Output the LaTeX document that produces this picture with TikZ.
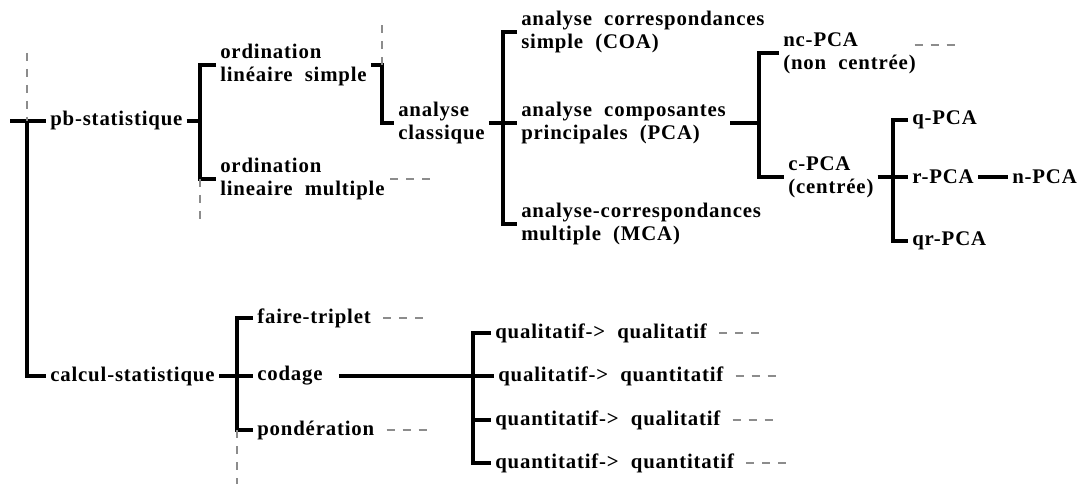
\documentclass[tikz,border=0pt]{standalone}
\usepackage{fontspec}
\setmainfont{Liberation Serif}[LetterSpace=4,WordSpace=2]
\usetikzlibrary{calc, positioning}

\begin{document}
\begin{tikzpicture}[x=0.75pt, y=-0.75pt, font=\bfseries\fontsize{15.6}{17.5}\selectfont, inner ysep=0pt, inner xsep=3pt, align=left,
  branch/.style={line width=2.5pt},
  stub/.style={black!45, line width=1.8pt, dash pattern=on 6pt off 6pt}]
\useasboundingbox (0,0) rectangle (1084,484);

\node[anchor=west] (pb) at (46,121) {pb-statistique};
\node[anchor=west] (ols) at (216,65) {ordination\\linéaire simple};
\node[anchor=west] (olm) at (216,179) {ordination\\lineaire multiple};
\node[anchor=west] (ac) at (394,123) {analyse\\classique};
\node[anchor=west] (aco) at (517,32) {analyse correspondances\\simple (COA)};
\node[anchor=west] (acp) at (517,123) {analyse composantes\\principales (PCA)};
\node[anchor=west] (amca) at (517,224) {analyse-correspondances\\multiple (MCA)};
\node[anchor=west] (nc) at (779,53) {nc-PCA\\(non centrée)};
\node[anchor=west] (cpca) at (784,177) {c-PCA\\(centrée)};
\node[anchor=west] (q) at (908,120) {q-PCA};
\node[anchor=west] (r) at (908,177) {r-PCA};
\node[anchor=west] (n) at (1008,177) {n-PCA};
\node[anchor=west] (qr) at (908,241) {qr-PCA};

\node[anchor=west] (cs) at (46,376) {calcul-statistique};
\node[anchor=west] (ft) at (253,318) {faire-triplet};
\node[anchor=west] (cod) at (253,376) {codage};
\node[anchor=west] (pond) at (253,430) {pondération};
\node[anchor=west] (qq1) at (491,333) {qualitatif-> qualitatif};
\node[anchor=west] (qq2) at (494,376) {qualitatif-> quantitatif};
\node[anchor=west] (qq3) at (491,420) {quantitatif-> qualitatif};
\node[anchor=west] (qq4) at (491,463) {quantitatif-> quantitatif};

\coordinate (start) at (10,121);
\coordinate (root) at (27,121);
\coordinate (roottop) at (27,53);
\coordinate (b1) at (200,121);
\coordinate (b2) at (382,123);
\coordinate (b3) at (503,123);
\coordinate (b4) at (759,123);
\coordinate (b5) at (893,177);
\coordinate (b6) at (237,376);
\coordinate (b7) at (473,376);

\draw[branch] (start) -- (pb.west);
\draw[branch] (root) |- (cs.west);
\draw[branch] (pb.east) -- (b1);
\draw[branch] (ols.west) -| (b1) |- (olm.west);
\draw[branch] (ols.east) -| (b2) -- (ac.west);
\draw[branch] (ac.east) -- (acp.west);
\draw[branch] (aco.west) -| (b3) |- (amca.west);
\draw[branch] (acp.east) -- (b4);
\draw[branch] (nc.west) -| (b4) |- (cpca.west);
\draw[branch] (cpca.east) -- (r.west);
\draw[branch] (q.west) -| (b5) |- (qr.west);
\draw[branch] (r.east) -- (n.west);
\draw[branch] (cs.east) -- (cod.west);
\draw[branch] (ft.west) -| (b6) |- (pond.west);
\draw[branch, shorten <=9pt] (cod.east) -- (qq2.west);
\draw[branch] (qq1.west) -| (b7) |- (qq4.west);
\draw[branch] (b7 |- qq3.west) -- (qq3.west);

\draw[stub] (roottop) -- (root);
\draw[stub] (b1 |- olm.west) -- ++(0,42);
\draw[stub] (b2 |- ols.east) -- ++(0,-42);
\draw[stub] (b6 |- pond.west) -- ++(0,56);
\draw[stub] ([xshift=1pt]olm.east) -- ++(40,0);
\draw[stub] ([xshift=-4pt,yshift=6pt]nc.east) -- ++(40,0);
\draw[stub] ([xshift=6pt]ft.east) -- ++(42,0);
\draw[stub] ([xshift=6pt]pond.east) -- ++(42,0);
\draw[stub] ([xshift=6pt]qq1.east) -- ++(44,0);
\draw[stub] ([xshift=6pt]qq2.east) -- ++(44,0);
\draw[stub] ([xshift=6pt]qq3.east) -- ++(44,0);
\draw[stub] ([xshift=6pt]qq4.east) -- ++(44,0);
\end{tikzpicture}
\end{document}
